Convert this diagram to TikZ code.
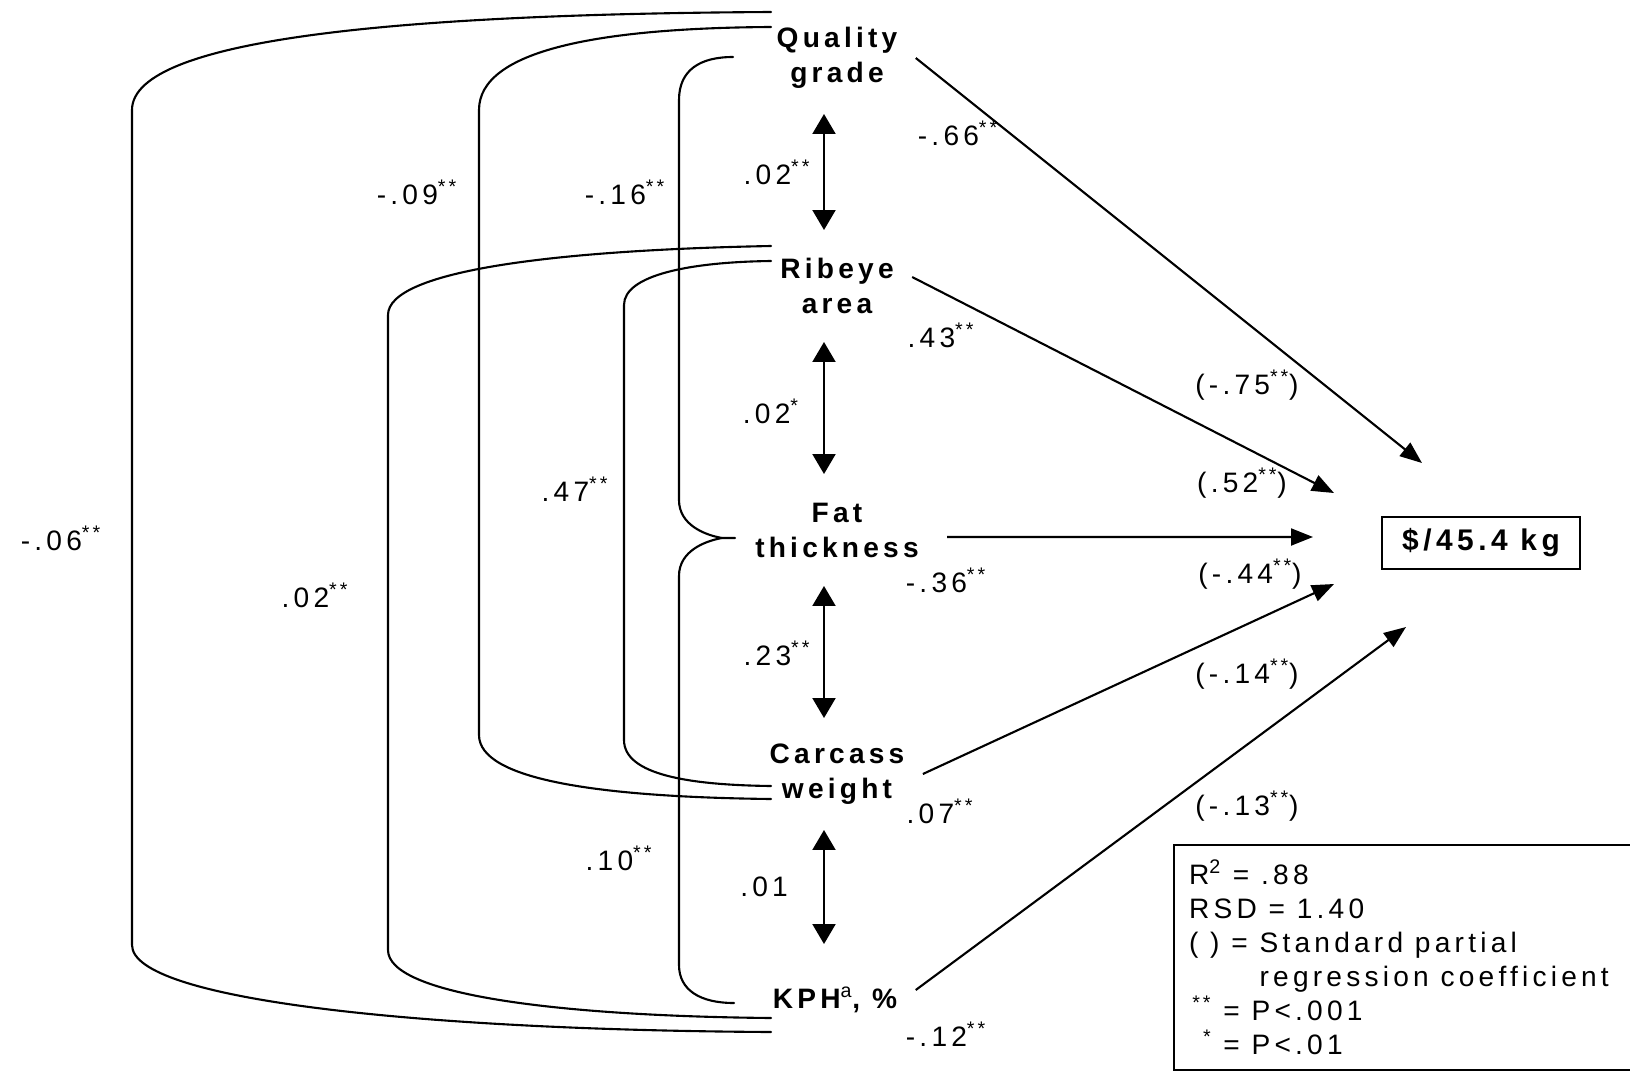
\documentclass[tikz,border=0pt]{standalone}
\usepackage{fontspec}
\setmainfont{Liberation Sans}
\newfontfamily\varfont[LetterSpace=15]{Liberation Sans}
\newfontfamily\coeffont[LetterSpace=15]{Liberation Sans}
\usetikzlibrary{arrows.meta,positioning}
\newcommand{\sig}[1]{\textsuperscript{#1}}

\begin{document}
\begin{tikzpicture}[
  x=0.02cm, y=-0.02cm,
  line width=1.2pt,
  var/.style={font=\varfont\bfseries\fontsize{16}{19.9}\selectfont, align=center, inner sep=2pt, outer sep=0.3cm, minimum height=1.64cm},
  coef/.style={font=\coeffont\fontsize{16}{18}\selectfont, inner sep=0pt},
  effect/.style={-{Triangle[length=0.44cm,width=0.34cm]}},
  dbl/.style={{Triangle[length=0.4cm,width=0.46cm]}-{Triangle[length=0.4cm,width=0.46cm]}},
  link/.style={line cap=round}
]
\useasboundingbox (0,0) rectangle (1630,1072);

% carcass traits
\node[var] (qg)  at (837,58)   {Quality\\grade};
\node[var] (ra)  at (837,286)  {Ribeye\\area};
\node[var] (ft)  at (837,530)  {Fat\\thickness};
\node[var] (cw)  at (837,774)  {Carcass\\weight};
\node[var] (kph) at (835,1000) {KPH\sig{\mdseries a}, \%};

\node[draw, font=\varfont\bfseries\fontsize{17}{20}\selectfont, minimum width=3.96cm, minimum height=1.04cm, inner sep=0pt] (price) at (1481,543) {\$/45.4 kg};

% arrow ends in front of the price box
\coordinate (e-qg)  at (1422,463);
\coordinate (e-ra)  at (1334,493);
\coordinate (e-ft)  at (1313,537);
\coordinate (e-cw)  at (1334,584);
\coordinate (e-kph) at (1406,627);

\draw[effect] (qg.east) -- (e-qg);
\draw[effect] ([yshift=0.18cm]ra.east) -- (e-ra);
\draw[effect] ([xshift=0.2cm,yshift=-0.14cm]ft.east) -- (e-ft);
\draw[effect] (cw.east) -- (e-cw);
\draw[effect] ([yshift=0.2cm]kph.east) -- (e-kph);

\node[coef] at (958,133)  {-.66\sig{**}};
\node[coef] at (1247,385) {(-.75\sig{**})};
\node[coef] at (941,335)  {.43\sig{**}};
\node[coef] at (1242,483) {(.52\sig{**})};
\node[coef] at (946,580)  {-.36\sig{**}};
\node[coef] at (1250,574) {(-.44\sig{**})};
\node[coef] at (1247,674) {(-.14\sig{**})};
\node[coef] at (940,811)  {.07\sig{**}};
\node[coef] at (1247,806) {(-.13\sig{**})};
\node[coef] at (946,1034) {-.12\sig{**}};

% neighbouring traits
\coordinate (ax) at (824,0);
\draw[dbl] (qg.south -| ax) -- (ra.north -| ax);
\draw[dbl] (ra.south -| ax) -- (ft.north -| ax);
\draw[dbl] (ft.south -| ax) -- (cw.north -| ax);
\draw[dbl] (cw.south -| ax) -- (kph.north -| ax);

\node[coef] at (777,172) {.02\sig{**}};
\node[coef] at (771,411) {.02\sig{*}};
\node[coef] at (777,653) {.23\sig{**}};
\node[coef] at (764,887) {.01};

% bracket ends
\coordinate (qg-a)  at (771,12);
\coordinate (qg-b)  at (771,27);
\coordinate (qg-c)  at (733,57);
\coordinate (ra-a)  at (771,246);
\coordinate (ra-b)  at (771,261);
\coordinate (ft-a)  at (722,538);
\coordinate (ft-t)  at (735,538);
\coordinate (cw-a)  at (771,786);
\coordinate (cw-b)  at (771,799);
\coordinate (kph-a) at (734,1003);
\coordinate (kph-b) at (771,1018);
\coordinate (kph-c) at (771,1032);

\draw[link] (qg-a) .. controls (420,14) and (132,36) .. (132,110) -- (132,945)
  .. controls (132,1000) and (420,1030) .. (kph-c);
\draw[link] (qg-b) .. controls (600,28) and (479,50) .. (479,110) -- (479,735)
  .. controls (479,780) and (600,797) .. (cw-b);
\draw[link] (qg-c) .. controls (700,57) and (679,70) .. (679,100) -- (679,500)
  .. controls (679,525) and (705,535) .. (ft-a);
\draw[link] (ft-t) -- (ft-a) .. controls (705,541) and (679,551) .. (679,576) -- (679,965)
  .. controls (679,990) and (700,1003) .. (kph-a);
\draw[link] (ra-a) .. controls (560,250) and (388,270) .. (388,315) -- (388,950)
  .. controls (388,995) and (560,1016) .. (kph-b);
\draw[link] (ra-b) .. controls (690,262) and (624,275) .. (624,305) -- (624,740)
  .. controls (624,775) and (690,785) .. (cw-a);

\node[coef] at (61,538)  {-.06\sig{**}};
\node[coef] at (417,192) {-.09\sig{**}};
\node[coef] at (625,192) {-.16\sig{**}};
\node[coef] at (315,595) {.02\sig{**}};
\node[coef] at (575,489) {.47\sig{**}};
\node[coef] at (619,858) {.10\sig{**}};

% fit statistics
\node[draw, anchor=north west, align=left, text width=8.8cm, inner xsep=0.3cm, inner ysep=0.3cm,
  font=\coeffont\fontsize{16}{19.35}\selectfont] (legend) at (1173,844)
  {\spaceskip=0.42em\relax
   R\sig{2} = .88\\
   RSD = 1.40\\
   ( ) = Standard partial\\
   \phantom{( ) = }regression coefficient\\
   \makebox[0.8em][r]{\sig{**}} = P<.001\\
   \makebox[0.8em][r]{\sig{*}} = P<.01};
\end{tikzpicture}
\end{document}
